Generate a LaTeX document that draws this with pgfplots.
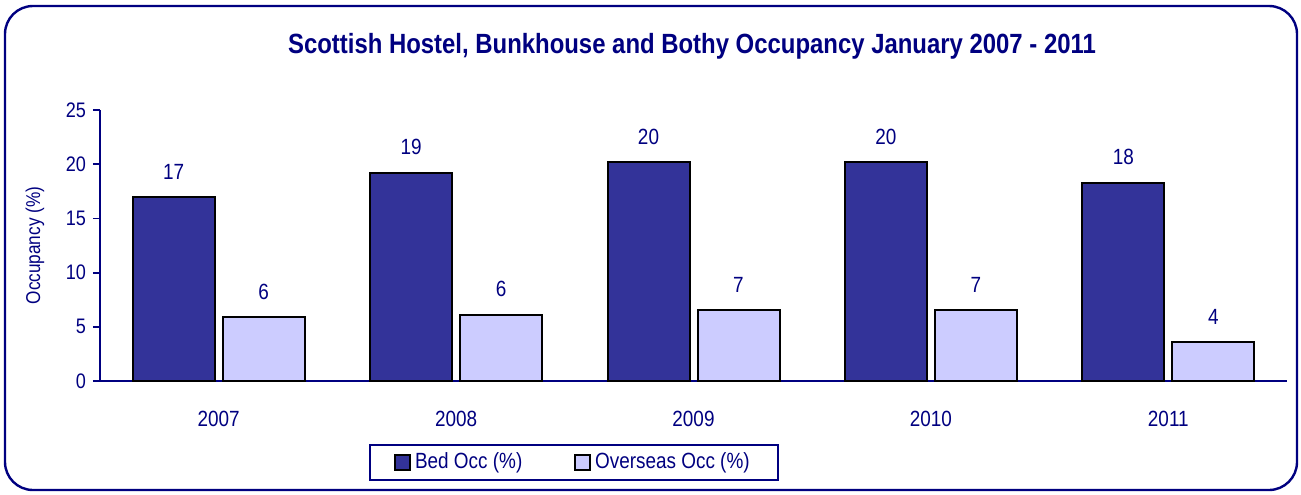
\documentclass[border=0pt]{standalone}
\usepackage{fontspec}
\setmainfont{Liberation Sans}[FakeStretch=0.86]
\usepackage{pgfplots}
\pgfplotsset{compat=1.18}
\definecolor{navy}{HTML}{000080}
\definecolor{bedocc}{HTML}{333399}
\definecolor{overocc}{HTML}{CCCCFF}

\begin{document}
\begin{tikzpicture}[x=1pt,y=1pt]
\useasboundingbox (-50,-56.5) rectangle (600.5,190.5);
\draw[navy, line width=1.2pt, rounded corners=14pt] (-47.5,-54.5) rectangle (598.5,187.5);
\node[navy, font=\bfseries\fontsize{13.9}{16}\selectfont] at (296,167.5)
  {Scottish Hostel, Bunkhouse and Bothy Occupancy January 2007 - 2011};
\begin{axis}[
  at={(0,0)}, anchor=south west,
  scale only axis, width=593.5pt, height=135.5pt,
  xmin=-0.5, xmax=4.5, ymin=0, ymax=25,
  ybar, bar width=41pt,
  axis x line*=bottom, axis y line*=left,
  axis line style={navy, line width=0.9pt},
  xtick={0,1,2,3,4}, xticklabels={2007,2008,2009,2010,2011},
  xtick style={draw=none},
  x tick label style={yshift=-8pt, font=\fontsize{11}{13}\selectfont},
  ytick={0,5,10,15,20,25},
  ytick style={navy, line width=0.9pt},
  tick align=outside, major tick length=3.5pt,
  tick label style={navy, font=\fontsize{10.5}{12}\selectfont},
  /pgf/number format/assume math mode=true,
  ylabel={Occupancy (\%)},
  ylabel style={navy, font=\fontsize{10}{12}\selectfont, at={(axis description cs:-0.0548,0.5)}, anchor=center},
  nodes near coords={\pgfmathprintnumber[fixed,precision=0]{\pgfplotspointmeta}},
  every node near coord/.append style={navy, font=\fontsize{11}{13}\selectfont, yshift=5pt},
  legend style={at={(0.3993,-0.299)}, anchor=center, draw=navy, line width=1pt,
    font=\fontsize{11}{13}\selectfont, text=navy, inner xsep=12pt, inner ysep=2pt,
    /tikz/column 2/.style={column sep=24pt}},
  legend columns=2, legend cell align=left,
  legend image code/.code={\draw[#1, draw=black, line width=0.9pt] (0pt,-4pt) rectangle (7.5pt,3.5pt);},
]
\addplot[fill=bedocc, draw=black, line width=1pt, bar shift=-22.5pt] coordinates
  {(0,17.0) (1,19.2) (2,20.2) (3,20.2) (4,18.3)};
\addplot[fill=overocc, draw=black, line width=1pt, bar shift=22.5pt] coordinates
  {(0,5.9) (1,6.1) (2,6.55) (3,6.55) (4,3.6)};
\legend{Bed Occ (\%), Overseas Occ (\%)}
\end{axis}
\end{tikzpicture}
\end{document}
